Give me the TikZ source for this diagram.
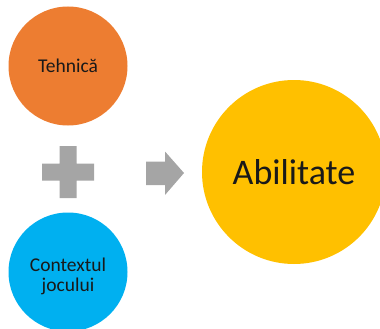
\documentclass[tikz,border=0pt]{standalone}
\usepackage{fontspec}
\setmainfont{Carlito}
\usepackage{xcolor}
\usepackage{tikz}
\usetikzlibrary{positioning, calc}
\definecolor{orangeacc}{HTML}{ED7D31}
\definecolor{blueacc}{HTML}{00B0F0}
\definecolor{goldacc}{HTML}{FFC000}
\definecolor{grayacc}{HTML}{A5A5A5}
\tikzstyle{ingredient} = [circle, inner sep=0pt, minimum size=119pt, text=black!90, font=\fontsize{19.5}{20}\selectfont, align=center]
\tikzstyle{result} = [circle, inner sep=0pt, minimum size=184pt, fill=goldacc, text=black!90, font=\fontsize{36}{40}\selectfont]
\tikzstyle{symbol} = [fill=grayacc, draw=none]

\begin{document}
\begin{tikzpicture}[x=1pt, y=-1pt]
    \useasboundingbox (0,0) rectangle (380,329);
    \node (tehnica) [ingredient, fill=orangeacc] at (68,66) {Tehnică};
    \node (context) [ingredient, fill=blueacc] at (68,272) {};
    \node (contexttext) [ingredient] at ($(context)+(0,4)$) {Contextul\\jocului};
    \node (abilitate) [result] at (294,172) {Abilitate};

    % plus sign between the two inputs
    \coordinate (plus) at (68,172);
    \fill [symbol] ($(plus)+(-8.5,-26)$) -- ++(17,0) -- ++(0,17.5) -- ++(17.5,0) -- ++(0,17)
        -- ++(-17.5,0) -- ++(0,17.5) -- ++(-17,0) -- ++(0,-17.5) -- ++(-17.5,0) -- ++(0,-17)
        -- ++(17.5,0) -- cycle;

    % block arrow towards the result
    \coordinate (arrow) at (146,173);
    \fill [symbol] ($(arrow)+(0,-11.5)$) -- ++(19,0) -- ++(0,-10) -- ($(arrow)+(38,0)$)
        -- ($(arrow)+(19,22)$) -- ++(0,-10) -- ($(arrow)+(0,12)$) -- cycle;
\end{tikzpicture}
\end{document}
